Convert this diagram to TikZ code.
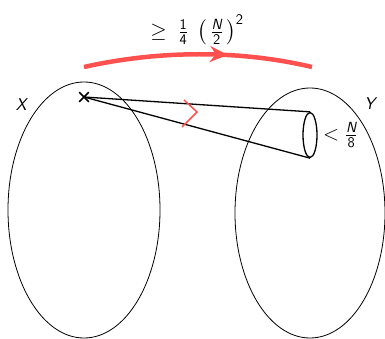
\RequirePackage{fix-cm}
\documentclass[tikz,border=0pt]{standalone}
\usepackage{amsmath,amssymb}
\usepackage{xcolor}
\usepackage{tikz}
\usetikzlibrary{shapes.geometric, shapes.misc, positioning, calc, arrows.meta, decorations.markings}

\definecolor{arcred}{RGB}{255,80,80}

\begin{document}
\begin{tikzpicture}[x=1pt,y=-1pt,font=\sffamily\fontsize{17}{20}\selectfont]
        \useasboundingbox (0,0) rectangle (385,339);

        % The two sets
        \node[draw, line width=0.8pt, ellipse, minimum width=152pt, minimum height=256pt, inner sep=0pt] (setX) at (84,210) {};
        \node[draw, line width=0.8pt, ellipse, minimum width=150pt, minimum height=250pt, inner sep=0pt] (setY) at (310,213) {};
        \node (labX) at (22,105) {\textit{X}};
        \node (labY) at (371,104) {\textit{Y}};

        % Vertex and the cone towards Y
        \node[draw, cross out, line width=1.6pt, minimum size=8pt, inner sep=0pt] (v) at (84,97) {};
        \node[draw, ellipse, line width=1.3pt, minimum width=14pt, minimum height=45pt, inner sep=0pt] (ball) at (310,135) {};
        \draw[line width=1.3pt] (v.center) -- (ball.north);
        \draw[line width=1.3pt] (v.center) -- (ball.south);
        \node[right=2pt of ball, font=\sffamily\fontsize{21}{24}\selectfont] (small) {$<\frac{\textit{N}}{\mathsf{8}}$};

        % Red chevron on the cone
        \draw[arcred, line width=1.5pt] (184,100) .. controls (190,106) .. (197,112) .. controls (190,119) .. (182,127);

        % Arc from X to Y with its bound
        \draw[arcred, line width=4.5pt, postaction={decorate},
              decoration={markings, mark=at position 0.63 with {\arrow{Stealth[length=18pt, width=16pt, inset=6pt]}}}]
              (84,67) .. controls (160,50) and (240,50) .. (312,67);
        \node[font=\sffamily\fontsize{21}{24}\selectfont] (bound) at (197,30) {$\geq\; \frac{\mathsf{1}}{\mathsf{4}}\; \left(\,\frac{\textit{N}}{\mathsf{2}}\,\right)^{\mathsf{2}}$};

    \end{tikzpicture}
\end{document}
